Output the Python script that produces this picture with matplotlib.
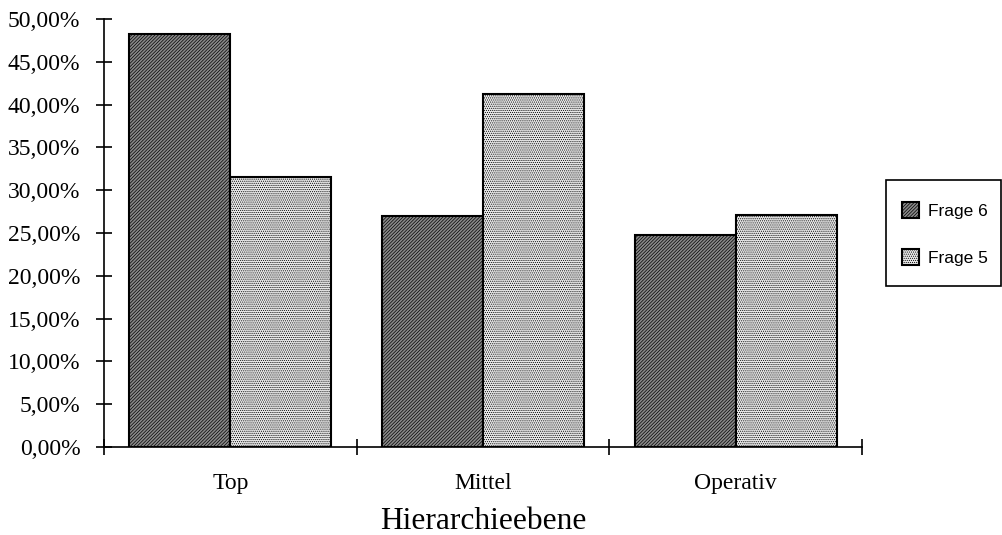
import matplotlib
matplotlib.use("Agg")
import matplotlib.pyplot as plt
import numpy as np
from matplotlib.ticker import FuncFormatter, FixedLocator
from matplotlib.patches import Rectangle

categories = ["Top", "Mittel", "Operativ"]
frage6 = [48.2, 27.0, 24.8]
frage5 = [31.5, 41.2, 27.1]
series_names = ["Frage 6", "Frage 5"]
yticks = [0, 5, 10, 15, 20, 25, 30, 35, 40, 45, 50]

plt.rcParams['hatch.linewidth'] = 0.5
plt.rcParams['hatch.color'] = 'black'

fig = plt.figure(figsize=(10.02, 5.35), dpi=100)
ax = fig.add_axes([104/1002, (535-447)/535, (862-104)/1002, (447-19)/535])

x = np.arange(len(categories))
w = 0.4
b1 = ax.bar(x - w/2, frage6, w, facecolor='#8a8a8a', edgecolor='black', hatch='//////////', linewidth=1.5, label=series_names[0])
b2 = ax.bar(x + w/2, frage5, w, facecolor='#e8e8e8', edgecolor='black', hatch='........', linewidth=1.5, label=series_names[1])

ax.set_xlim(-0.5, 2.5)
ax.set_ylim(0, 50)
ax.set_yticks(yticks)
ax.yaxis.set_major_formatter(FuncFormatter(lambda v, p: f"{v:.2f}".replace('.', ',') + "%"))
for s in ['top', 'right']:
    ax.spines[s].set_visible(False)
for s in ['left', 'bottom']:
    ax.spines[s].set_linewidth(1.2)

ax.set_xticks(x)
ax.set_xticklabels(categories, fontfamily='Liberation Serif', fontsize=17)
ax.tick_params(axis='x', which='major', length=0, pad=19)
ax.xaxis.set_minor_locator(FixedLocator([-0.5, 0.5, 1.5, 2.5]))
ax.tick_params(axis='x', which='minor', direction='inout', length=12, width=1.2)
ax.tick_params(axis='y', direction='inout', length=12, width=1.2, pad=11)
for lab in ax.get_yticklabels():
    lab.set_fontfamily('Liberation Serif')
    lab.set_fontsize(17)

ax.set_xlabel("Hierarchieebene", fontfamily='Liberation Serif', fontsize=22.7, labelpad=9)

# legend frame drawn separately
fig.patches.append(Rectangle((886/1002, 1 - 286/535), (1000.5-886)/1002, (286-180)/535,
                             transform=fig.transFigure, facecolor='white', edgecolor='black',
                             linewidth=1.2, zorder=1))
leg = fig.legend(handles=[b1, b2], loc='center left', bbox_to_anchor=(902/1002, 1 - 234/535),
                 prop={'family': 'Liberation Sans', 'size': 12.5}, frameon=False,
                 borderpad=0, labelspacing=1.75, handlelength=1.0, handleheight=1.0,
                 handletextpad=0.5, borderaxespad=0)
leg.set_zorder(2)

fig.savefig("out.png", dpi=100)
